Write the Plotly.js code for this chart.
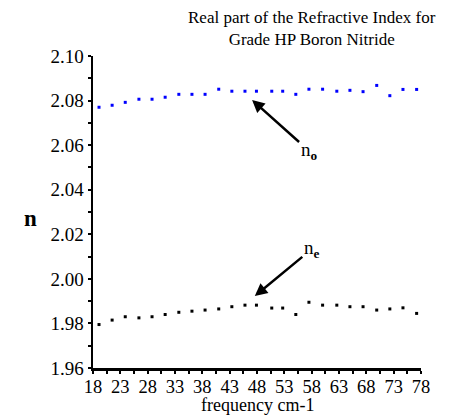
<!DOCTYPE html>
<html>
<head>
<meta charset="utf-8">
<script src="https://cdn.plot.ly/plotly-3.0.1.min.js"></script>
<style>
  html, body { margin: 0; padding: 0; background: #fff; }
  #chart { width: 454px; height: 417px; }
</style>
</head>
<body>
<div id="chart"></div>
<script>
// Frequencies (cm-1) of the measured points
const frequency = [19.1, 21.5, 23.9, 26.4, 28.8, 31.2, 33.7, 36.1, 38.5, 41.0,
                   43.4, 45.8, 47.9, 50.7, 52.7, 55.1, 57.5, 60.0, 62.6, 65.0,
                   67.4, 69.9, 72.3, 74.7, 77.2];

// Ordinary index n_o
const nOrdinary = [2.0770, 2.0779, 2.0792, 2.0806, 2.0806, 2.0815, 2.0828, 2.0828, 2.0828, 2.0851,
                   2.0842, 2.0842, 2.0842, 2.0842, 2.0842, 2.0828, 2.0851, 2.0851, 2.0842, 2.0846,
                   2.0840, 2.0868, 2.0822, 2.0850, 2.0850];

// Extraordinary index n_e
const nExtraordinary = [1.9795, 1.9815, 1.9830, 1.9825, 1.9830, 1.9840, 1.9850, 1.9855, 1.9860, 1.9865,
                        1.9875, 1.9882, 1.9882, 1.9869, 1.9869, 1.9840, 1.9895, 1.9882, 1.9882, 1.9875,
                        1.9875, 1.9860, 1.9865, 1.9870, 1.9845];

const xTicks = [18, 23, 28, 33, 38, 43, 48, 53, 58, 63, 68, 73, 78];
const yTicks = [1.96, 1.98, 2.00, 2.02, 2.04, 2.06, 2.08, 2.10];

const serif = "Liberation Serif, Times New Roman, serif";

const traces = [
  {
    x: frequency, y: nOrdinary, type: "scatter", mode: "markers",
    marker: { symbol: "square", size: 3, color: "#0000ff" },
    hoverinfo: "skip"
  },
  {
    x: frequency, y: nExtraordinary, type: "scatter", mode: "markers",
    marker: { symbol: "square", size: 3, color: "#000000" },
    hoverinfo: "skip"
  }
];

const layout = {
  width: 454, height: 417,
  margin: { l: 93, r: 33, t: 56, b: 49 },
  paper_bgcolor: "#fff", plot_bgcolor: "#fff",
  showlegend: false,
  font: { family: serif, size: 18, color: "#000" },
  xaxis: {
    range: [18, 78],
    tickvals: xTicks, ticktext: xTicks.map(String),
    ticks: "outside", ticklen: 3, tickwidth: 2, tickcolor: "#000",
    ticklabelstandoff: -3,
    minor: { dtick: 2.5, tick0: 18, ticks: "outside", ticklen: 3, tickwidth: 2, tickcolor: "#000" },
    showline: true, linecolor: "#000", linewidth: 2.5,
    showgrid: false, zeroline: false,
    tickfont: { family: serif, size: 18.5, color: "#000" }
  },
  yaxis: {
    range: [1.96, 2.10],
    tickvals: yTicks, ticktext: yTicks.map(v => v.toFixed(2)),
    ticks: "outside", ticklen: 3, tickwidth: 2, tickcolor: "#000",
    minor: { dtick: 0.01, tick0: 1.96, ticks: "outside", ticklen: 3, tickwidth: 2, tickcolor: "#000" },
    showline: true, linecolor: "#000", linewidth: 2.5,
    showgrid: false, zeroline: false,
    tickfont: { family: serif, size: 19, color: "#000" }
  },
  annotations: [
    { // chart heading, two centred lines
      text: "Real part of the Refractive Index for<br>Grade HP Boron Nitride",
      xref: "paper", yref: "paper", x: 0.668, y: 1.16,
      xanchor: "center", yanchor: "top", align: "center", showarrow: false,
      font: { family: serif, size: 17, color: "#000" }
    },
    { // x-axis caption
      text: "frequency cm-1", xref: "paper", yref: "paper",
      x: 0.5, y: -0.12, xanchor: "center", yanchor: "middle", showarrow: false,
      font: { family: serif, size: 18, color: "#000" }
    },
    { // axis symbol
      text: "<b>n</b>", xref: "paper", yref: "paper",
      x: -0.216, y: 0.48, showarrow: false,
      font: { family: serif, size: 23, color: "#000" }
    },
    { // label and arrow for the ordinary curve
      x: 47.1, y: 2.0803, xref: "x", yref: "y",
      ax: 57, ay: 51, text: "n<sub><b>o</b></sub>", showarrow: true,
      arrowhead: 2, arrowsize: 1, arrowwidth: 2.5, arrowcolor: "#000",
      font: { family: serif, size: 19, color: "#000" }
    },
    { // label and arrow for the extraordinary curve
      x: 47.6, y: 1.9923, xref: "x", yref: "y",
      ax: 57, ay: -47, text: "n<sub><b>e</b></sub>", showarrow: true,
      arrowhead: 2, arrowsize: 1, arrowwidth: 2.5, arrowcolor: "#000",
      font: { family: serif, size: 19, color: "#000" }
    }
  ]
};

Plotly.newPlot("chart", traces, layout, { staticPlot: true, displayModeBar: false });
</script>
</body>
</html>
